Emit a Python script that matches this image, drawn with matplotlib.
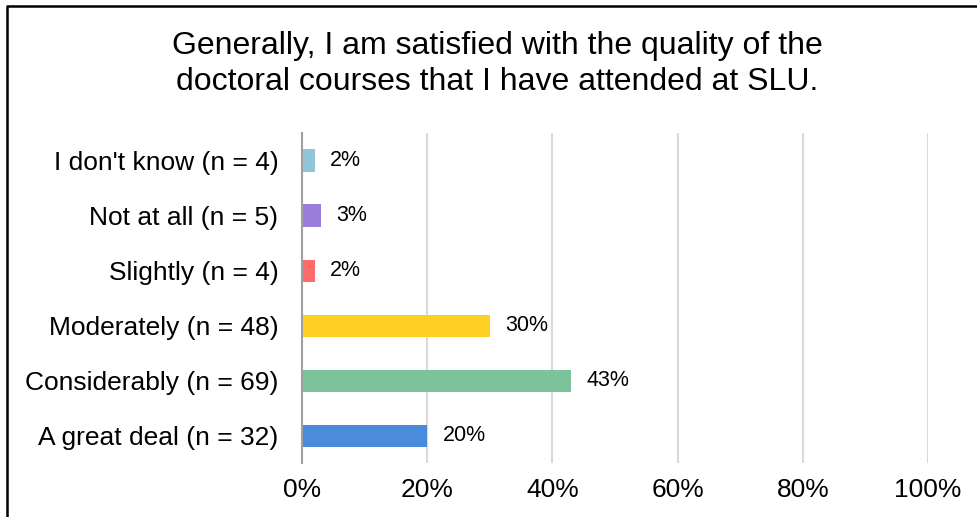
import matplotlib
matplotlib.use("Agg")
import matplotlib.pyplot as plt
from matplotlib.lines import Line2D

plt.rcParams['font.family'] = ['Liberation Sans', 'DejaVu Sans']

categories = ["I don't know (n = 4)", "Not at all (n = 5)", "Slightly (n = 4)",
              "Moderately (n = 48)", "Considerably (n = 69)", "A great deal (n = 32)"]
values = [2, 3, 2, 30, 43, 20]
colors = ["#92C5DA", "#9B7EDC", "#FF6A6A", "#FFD022", "#7DC29A", "#4A8BDC"]
xticks = [0, 20, 40, 60, 80, 100]
xticklabels = ["0%", "20%", "40%", "60%", "80%", "100%"]
title = "Generally, I am satisfied with the quality of the\ndoctoral courses that I have attended at SLU."

W, H = 977, 517
fig = plt.figure(figsize=(W / 100, H / 100), dpi=100)
ax = fig.add_axes([302 / W, 1 - 463 / H, (928 - 302) / W, (463 - 133) / H])

ypos = list(range(len(categories)))[::-1]
ax.barh(ypos, values, height=0.4, color=colors, zorder=3)
for y, v in zip(ypos, values):
    ax.text(v + 2.5, y, f"{v}%", va='center', ha='left', fontsize=15.5, color='#000000')

ax.set_xlim(0, 100)
ax.set_ylim(-0.5, len(categories) - 0.5)
ax.set_xticks(xticks)
ax.set_xticklabels(xticklabels, fontsize=19)
ax.set_yticks(ypos)
ax.set_yticklabels(categories, fontsize=19)
ax.tick_params(axis='both', length=0)
ax.tick_params(axis='x', pad=11)
ax.tick_params(axis='y', pad=17)
ax.grid(axis='x', color='#D9D9D9', linewidth=1.5, zorder=0)
for s in ['top', 'right', 'bottom']:
    ax.spines[s].set_visible(False)
ax.spines['left'].set_color('#A0A0A0')
ax.spines['left'].set_linewidth(1.5)
ax.spines['left'].set_zorder(4)

fig.text(497 / W, 1 - 64 / H, title, ha='center', va='center', fontsize=23, linespacing=1.25)

fig.lines.append(Line2D([7 / W, 7 / W, 1.0], [0.0, 1 - 6 / H, 1 - 6 / H],
                        transform=fig.transFigure, color='black', linewidth=1.8))

fig.savefig("out.png", dpi=100)
